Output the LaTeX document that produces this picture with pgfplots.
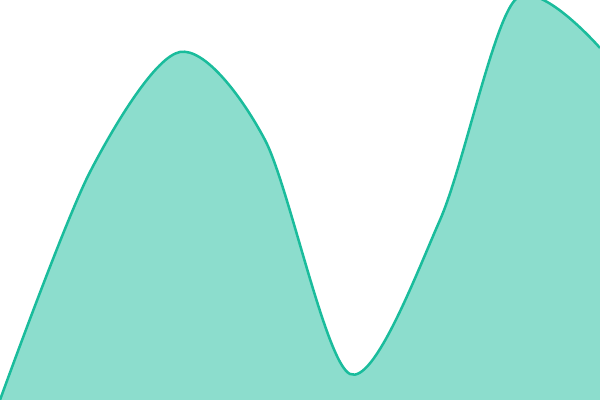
\documentclass[border=0pt]{standalone}
\usepackage{pgfplots}
\pgfplotsset{compat=1.18}
\definecolor{turq}{HTML}{1ABC9C}
\begin{document}
\begin{tikzpicture}
	\begin{axis}[
		width=15cm, height=10cm,
		scale only axis,
		xmin=0, xmax=600,
		ymin=0, ymax=400,
		axis line style={draw=none},
		ticks=none,
		clip=true,
	]
		% area
		\addplot[draw=none, fill=turq, fill opacity=0.5, smooth] coordinates {
			(0,0) (90,228) (180,348) (265,260) (350,26) (440,180) (515,400) (600,352)
		} \closedcycle;
		% outline
		\addplot[turq, line width=1.8pt, smooth] coordinates {
			(0,0) (90,228) (180,348) (265,260) (350,26) (440,180) (515,400) (600,352)
		};
	\end{axis}
\end{tikzpicture}
\end{document}
